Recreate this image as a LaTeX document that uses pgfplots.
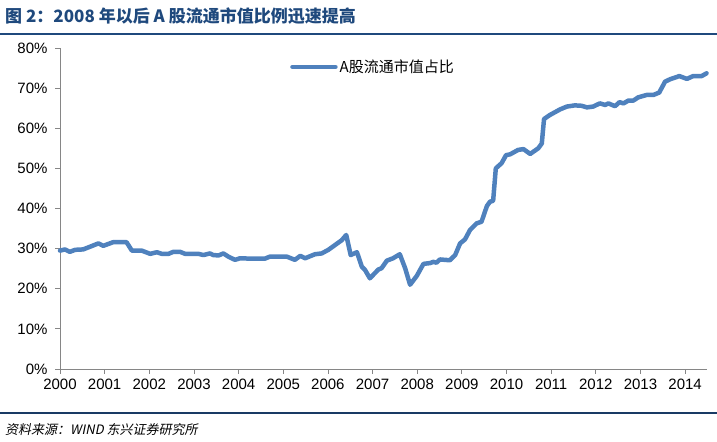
\documentclass[border=0pt]{standalone}
\usepackage{fontspec}
\usepackage{pgfplots}
\pgfplotsset{compat=1.18}
\setmainfont{Liberation Sans}
\newfontfamily\cjk{Noto Sans CJK SC}
\newfontfamily\cjkit[FakeSlant=0.2]{Noto Sans CJK SC}
\definecolor{titleblue}{HTML}{1F497D}
\definecolor{lineblue}{HTML}{4F81BD}
\definecolor{axgray}{HTML}{868686}
\begin{document}
\begin{tikzpicture}[x=1bp,y=1bp]
\path[use as bounding box] (0,0) rectangle (717,442);
\node[anchor=base west,inner sep=0pt,text=titleblue] at (5,419) {\fontsize{17bp}{20bp}\selectfont\cjk\bfseries 图 2：2008 年以后 A 股流通市值比例迅速提高};
\draw[titleblue,line width=1.5bp] (0,408) -- (717,408);
\draw[titleblue!80!black,line width=1.2bp] (0,29) -- (717,29);
\node[anchor=base west,inner sep=0pt] at (5,7) {\fontsize{13bp}{15bp}\selectfont\cjkit 资料来源：WIND 东兴证券研究所};
\begin{axis}[
  at={(60bp,73bp)}, anchor=origin,
  scale only axis, width=647bp, height=321bp,
  xmin=2000, xmax=2014.49, ymin=0, ymax=80,
  axis lines=left, axis line style={-,axgray,line width=0.8bp},
  tick style={axgray,line width=0.8bp},
  tick align=outside, major tick length=5bp,
  xtick={2000,2001,...,2014},
  ytick={0,10,...,80},
  /pgf/number format/1000 sep={},
  /pgf/number format/assume math mode=true,
  yticklabel={\pgfmathprintnumber{\tick}\%},
  xticklabel style={font=\fontsize{15bp}{18bp}\selectfont, yshift=-2bp},
  yticklabel style={font=\fontsize{15bp}{18bp}\selectfont, xshift=-4bp},
  legend style={at={(rel axis cs:0.3555,0.941)}, anchor=west, draw=none, fill=none, inner sep=0pt,
    font=\fontsize{15bp}{18bp}\selectfont\cjk, cells={anchor=west}},
  legend image code/.code={\draw[lineblue,line width=4.5bp] (0bp,0bp) -- (43bp,0bp);},
  /tikz/every even column/.append style={column sep=0pt},
  clip=false,
]
\addplot[lineblue, line width=4.5bp, line join=round, line cap=round] coordinates {
(2000.00,29.5) (2000.11,29.8) (2000.22,29.2) (2000.34,29.7) (2000.52,29.8)
(2000.86,31.3) (2000.97,30.7) (2001.19,31.6) (2001.49,31.6) (2001.61,29.5)
(2001.83,29.5) (2002.02,28.7) (2002.17,29.1) (2002.28,28.7) (2002.43,28.7)
(2002.54,29.2) (2002.69,29.2) (2002.80,28.7) (2003.10,28.7) (2003.21,28.4)
(2003.36,28.8) (2003.43,28.4) (2003.55,28.3) (2003.66,28.8) (2003.77,28.0)
(2003.92,27.2) (2004.03,27.6) (2004.26,27.5) (2004.59,27.5) (2004.70,28.0)
(2005.08,28.0) (2005.26,27.2) (2005.38,28.2) (2005.49,27.6) (2005.71,28.6)
(2005.86,28.8) (2006.01,29.7) (2006.16,30.9) (2006.31,32.1) (2006.41,33.4)
(2006.51,28.4) (2006.65,29.1) (2006.76,25.5) (2006.83,24.7) (2006.94,22.6)
(2007.13,24.8) (2007.20,25.1) (2007.32,27.0) (2007.46,27.6) (2007.61,28.6)
(2007.73,25.1) (2007.84,21.0) (2007.99,23.2) (2008.14,26.2) (2008.29,26.4)
(2008.36,26.7) (2008.43,26.5) (2008.51,27.3) (2008.73,27.1) (2008.85,28.4)
(2008.96,31.3) (2009.07,32.3) (2009.18,34.6) (2009.33,36.3) (2009.44,36.7)
(2009.56,40.6) (2009.63,41.7) (2009.70,41.9) (2009.76,50.0) (2009.89,51.3)
(2009.99,53.3) (2010.08,53.5) (2010.26,54.6) (2010.38,54.8) (2010.53,53.6)
(2010.71,55.0) (2010.79,56.2) (2010.84,62.3) (2010.97,63.3) (2011.20,64.7)
(2011.35,65.4) (2011.53,65.7) (2011.68,65.6) (2011.80,65.2) (2011.94,65.4)
(2012.09,66.2) (2012.21,65.8) (2012.28,66.2) (2012.43,65.5) (2012.53,66.5)
(2012.62,66.2) (2012.73,66.9) (2012.84,66.9) (2012.95,67.7) (2013.14,68.3)
(2013.29,68.3) (2013.42,68.9) (2013.55,71.6) (2013.66,72.2) (2013.87,73.0)
(2014.04,72.3) (2014.18,73.0) (2014.37,73.0) (2014.48,73.7)
};
\addlegendentry{A股流通市值占比}
\end{axis}
\end{tikzpicture}
\end{document}
